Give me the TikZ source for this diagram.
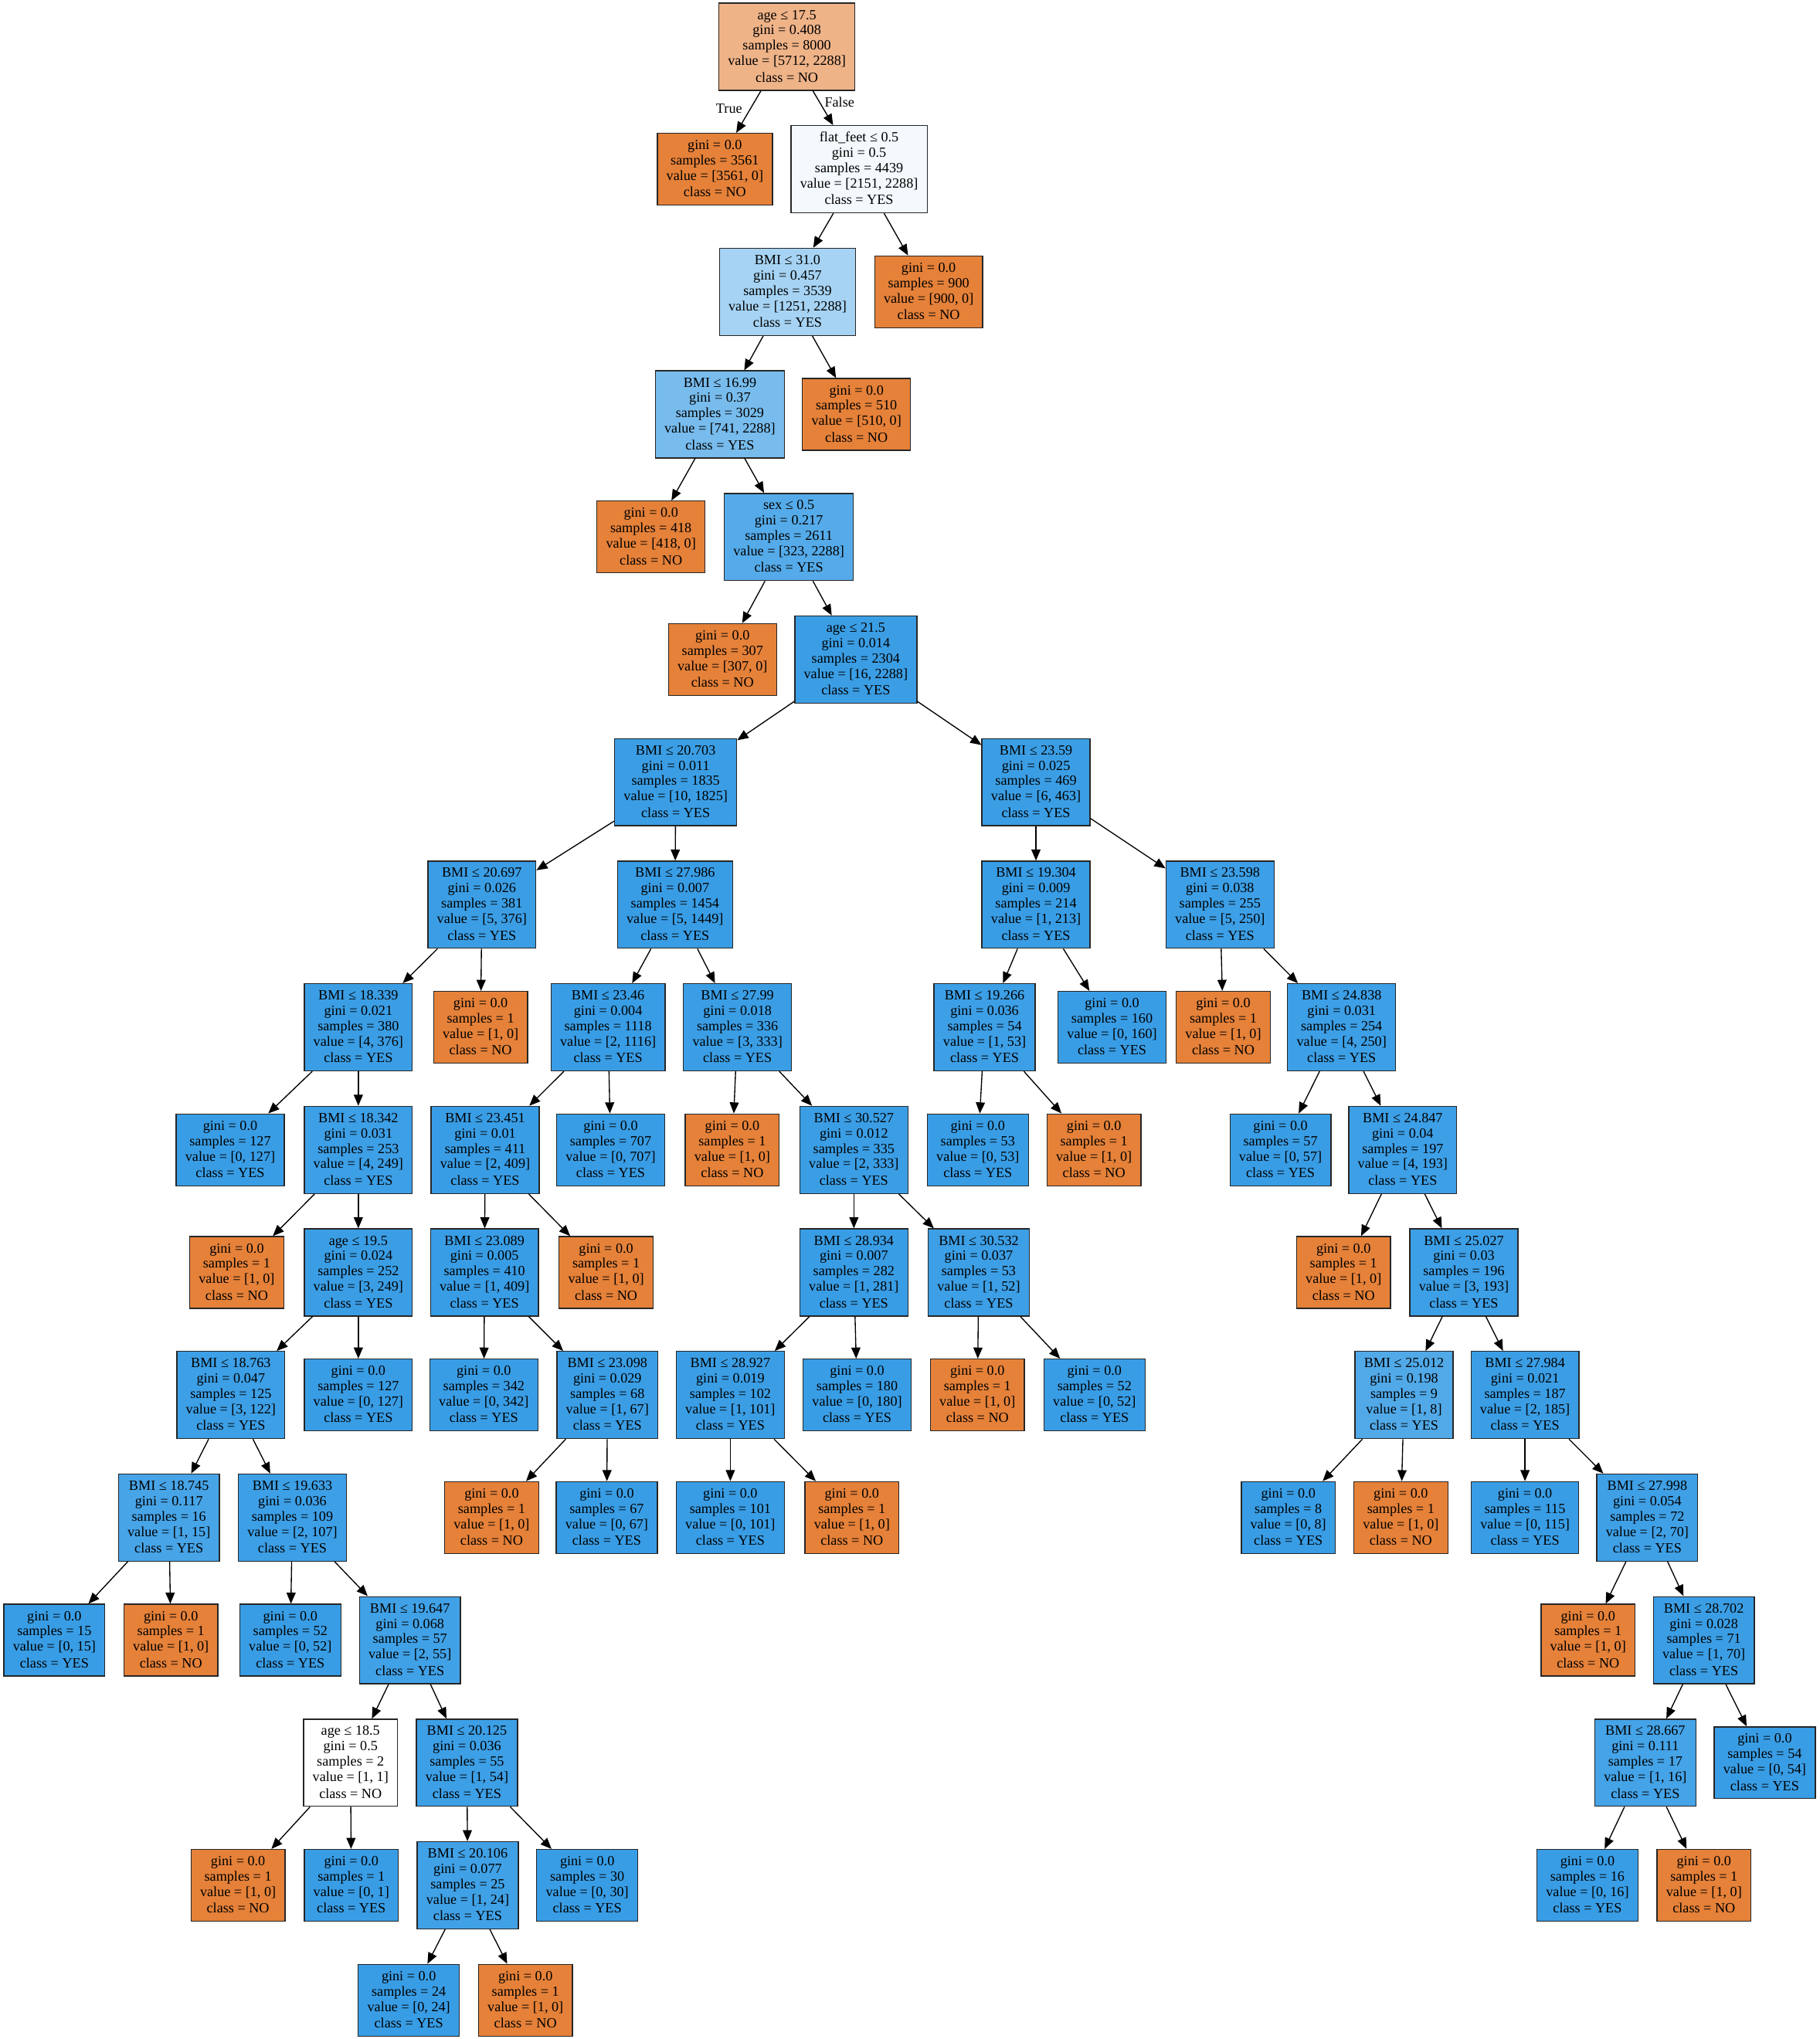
\documentclass[tikz,border=0pt]{standalone}
\usepackage{fontspec}
\setmainfont{Liberation Serif}
\usetikzlibrary{arrows.meta}
\definecolor{cno}{HTML}{E58139}
\definecolor{cyes}{HTML}{399DE5}
% line struts: the first and last ones set the text a little lower in its box
\newcommand\firststrut{\rule[-3.54pt]{0pt}{12.5pt}}
\newcommand\laststrut{\rule[-2.84pt]{0pt}{11.1pt}}
% node texts: leaves and decision nodes
\newcommand\leafno[1]{gini = 0.0\firststrut\\samples = #1\strut\\value = [#1, 0]\strut\\class = NO\laststrut}
\newcommand\leafyes[1]{gini = 0.0\firststrut\\samples = #1\strut\\value = [0, #1]\strut\\class = YES\laststrut}
\newcommand\decnode[5]{#1\firststrut\\gini = #2\strut\\samples = #3\strut\\value = [#4]\strut\\class = #5\laststrut}
\tikzset{
  box/.style={draw=black!85, line width=0.8pt, rectangle, align=center,
    inner xsep=7pt, inner ysep=3.5pt, font=\fontsize{10.8}{11.8}\selectfont},
  nobox/.style={box, fill=cno},
  yesbox/.style={box, fill=cyes},
  mixbox/.style={box, fill=cyes!#1!white},
  link/.style={draw=black, line width=0.8pt, -{Triangle[length=8.5pt,width=7pt]}},
  tf/.style={font=\fontsize{10.8}{11.8}\selectfont, inner sep=0pt}
}
\begin{document}
\begin{tikzpicture}[x=1pt, y=-94.26pt]
\useasboundingbox (0,-0.38086) rectangle (1399,16.2540);
% rank 0
\node[box, fill=cno!60!white] (n0) at (605,0) {\decnode{age ≤ 17.5}{0.408}{8000}{5712, 2288}{NO}};
% rank 1
\node[nobox] (n1) at (549.6,1) {\leafno{3561}};
\node[mixbox=6] (n2) at (660.5,1) {\decnode{flat\_feet ≤ 0.5}{0.5}{4439}{2151, 2288}{YES}};
% rank 2
\node[mixbox=45] (n3) at (605.5,2) {\decnode{BMI ≤ 31.0}{0.457}{3539}{1251, 2288}{YES}};
\node[nobox] (n4) at (714,2) {\leafno{900}};
% rank 3
\node[mixbox=68] (n5) at (553.5,3) {\decnode{BMI ≤ 16.99}{0.37}{3029}{741, 2288}{YES}};
\node[nobox] (n6) at (658.5,3) {\leafno{510}};
% rank 4
\node[nobox] (n7) at (500.5,4) {\leafno{418}};
\node[mixbox=86] (n8) at (606.5,4) {\decnode{sex ≤ 0.5}{0.217}{2611}{323, 2288}{YES}};
% rank 5
\node[nobox] (n9) at (555.5,5) {\leafno{307}};
\node[mixbox=99] (n10) at (658,5) {\decnode{age ≤ 21.5}{0.014}{2304}{16, 2288}{YES}};
% rank 6
\node[mixbox=99] (n11) at (519.5,6) {\decnode{BMI ≤ 20.703}{0.011}{1835}{10, 1825}{YES}};
\node[mixbox=99] (n12) at (796.5,6) {\decnode{BMI ≤ 23.59}{0.025}{469}{6, 463}{YES}};
% rank 7
\node[mixbox=99] (n13) at (370.5,7) {\decnode{BMI ≤ 20.697}{0.026}{381}{5, 376}{YES}};
\node[yesbox] (n14) at (519,7) {\decnode{BMI ≤ 27.986}{0.007}{1454}{5, 1449}{YES}};
\node[yesbox] (n15) at (796.5,7) {\decnode{BMI ≤ 19.304}{0.009}{214}{1, 213}{YES}};
\node[mixbox=98] (n16) at (938,7) {\decnode{BMI ≤ 23.598}{0.038}{255}{5, 250}{YES}};
% rank 8
\node[mixbox=99] (n17) at (275.5,8) {\decnode{BMI ≤ 18.339}{0.021}{380}{4, 376}{YES}};
\node[nobox] (n18) at (369.5,8) {\leafno{1}};
\node[yesbox] (n19) at (467.5,8) {\decnode{BMI ≤ 23.46}{0.004}{1118}{2, 1116}{YES}};
\node[mixbox=99] (n20) at (567,8) {\decnode{BMI ≤ 27.99}{0.018}{336}{3, 333}{YES}};
\node[mixbox=98] (n21) at (757,8) {\decnode{BMI ≤ 19.266}{0.036}{54}{1, 53}{YES}};
\node[yesbox] (n22) at (855,8) {\leafyes{160}};
\node[nobox] (n23) at (940.5,8) {\leafno{1}};
\node[mixbox=98] (n24) at (1031.5,8) {\decnode{BMI ≤ 24.838}{0.031}{254}{4, 250}{YES}};
% rank 9
\node[yesbox] (n25) at (177,9) {\leafyes{127}};
\node[mixbox=98] (n26) at (275.5,9) {\decnode{BMI ≤ 18.342}{0.031}{253}{4, 249}{YES}};
\node[yesbox] (n27) at (373,9) {\decnode{BMI ≤ 23.451}{0.01}{411}{2, 409}{YES}};
\node[yesbox] (n28) at (469.5,9) {\leafyes{707}};
\node[nobox] (n29) at (563,9) {\leafno{1}};
\node[mixbox=99] (n30) at (656.5,9) {\decnode{BMI ≤ 30.527}{0.012}{335}{2, 333}{YES}};
\node[yesbox] (n31) at (751.8,9) {\leafyes{53}};
\node[nobox] (n32) at (841.1,9) {\leafno{1}};
\node[yesbox] (n33) at (984.5,9) {\leafyes{57}};
\node[mixbox=98] (n34) at (1078.5,9) {\decnode{BMI ≤ 24.847}{0.04}{197}{4, 193}{YES}};
% rank 10
\node[nobox] (n35) at (182,10) {\leafno{1}};
\node[mixbox=99] (n36) at (275.5,10) {\decnode{age ≤ 19.5}{0.024}{252}{3, 249}{YES}};
\node[yesbox] (n37) at (372.5,10) {\decnode{BMI ≤ 23.089}{0.005}{410}{1, 409}{YES}};
\node[nobox] (n38) at (466,10) {\leafno{1}};
\node[yesbox] (n39) at (656.5,10) {\decnode{BMI ≤ 28.934}{0.007}{282}{1, 281}{YES}};
\node[mixbox=98] (n40) at (752.5,10) {\decnode{BMI ≤ 30.532}{0.037}{53}{1, 52}{YES}};
\node[nobox] (n41) at (1033,10) {\leafno{1}};
\node[mixbox=98] (n42) at (1125.5,10) {\decnode{BMI ≤ 25.027}{0.03}{196}{3, 193}{YES}};
% rank 11
\node[mixbox=98] (n43) at (177.5,11) {\decnode{BMI ≤ 18.763}{0.047}{125}{3, 122}{YES}};
\node[yesbox] (n44) at (275.5,11) {\leafyes{127}};
\node[yesbox] (n45) at (372,11) {\leafyes{342}};
\node[mixbox=99] (n46) at (467,11) {\decnode{BMI ≤ 23.098}{0.029}{68}{1, 67}{YES}};
\node[mixbox=99] (n47) at (561.5,11) {\decnode{BMI ≤ 28.927}{0.019}{102}{1, 101}{YES}};
\node[yesbox] (n48) at (659,11) {\leafyes{180}};
\node[nobox] (n49) at (751.5,11) {\leafno{1}};
\node[yesbox] (n50) at (841.5,11) {\leafyes{52}};
\node[mixbox=88] (n51) at (1079.5,11) {\decnode{BMI ≤ 25.012}{0.198}{9}{1, 8}{YES}};
\node[mixbox=99] (n52) at (1172.5,11) {\decnode{BMI ≤ 27.984}{0.021}{187}{2, 185}{YES}};
% rank 12
\node[mixbox=93] (n53) at (129.9,12) {\decnode{BMI ≤ 18.745}{0.117}{16}{1, 15}{YES}};
\node[mixbox=98] (n54) at (224.8,12) {\decnode{BMI ≤ 19.633}{0.036}{109}{2, 107}{YES}};
\node[nobox] (n55) at (378,12) {\leafno{1}};
\node[yesbox] (n56) at (466.5,12) {\leafyes{67}};
\node[yesbox] (n57) at (561.5,12) {\leafyes{101}};
\node[nobox] (n58) at (655,12) {\leafno{1}};
\node[yesbox] (n59) at (990.5,12) {\leafyes{8}};
\node[nobox] (n60) at (1077,12) {\leafno{1}};
\node[yesbox] (n61) at (1172.5,12) {\leafyes{115}};
\node[mixbox=97] (n62) at (1266.5,12) {\decnode{BMI ≤ 27.998}{0.054}{72}{2, 70}{YES}};
% rank 13
\node[yesbox] (n63) at (41.8,13) {\leafyes{15}};
\node[nobox] (n64) at (131.4,13) {\leafno{1}};
\node[yesbox] (n65) at (223.2,13) {\leafyes{52}};
\node[mixbox=96] (n66) at (315.2,13) {\decnode{BMI ≤ 19.647}{0.068}{57}{2, 55}{YES}};
\node[nobox] (n67) at (1221,13) {\leafno{1}};
\node[mixbox=99] (n68) at (1310,13) {\decnode{BMI ≤ 28.702}{0.028}{71}{1, 70}{YES}};
% rank 14
\node[box, fill=white] (n69) at (269.5,14) {\decnode{age ≤ 18.5}{0.5}{2}{1, 1}{NO}};
\node[mixbox=98] (n70) at (359,14) {\decnode{BMI ≤ 20.125}{0.036}{55}{1, 54}{YES}};
\node[mixbox=94] (n71) at (1265,14) {\decnode{BMI ≤ 28.667}{0.111}{17}{1, 16}{YES}};
\node[yesbox] (n72) at (1356.8,14) {\leafyes{54}};
% rank 15
\node[nobox] (n73) at (183,15) {\leafno{1}};
\node[yesbox] (n74) at (270.1,15) {\leafyes{1}};
\node[mixbox=96] (n75) at (359.6,15) {\decnode{BMI ≤ 20.106}{0.077}{25}{1, 24}{YES}};
\node[yesbox] (n76) at (451.5,15) {\leafyes{30}};
\node[yesbox] (n77) at (1220.5,15) {\leafyes{16}};
\node[nobox] (n78) at (1310.1,15) {\leafno{1}};
% rank 16 (leaves only)
\node[yesbox] (n79) at (314.3,15.9375) {\leafyes{24}};
\node[nobox] (n80) at (404,15.9375) {\leafno{1}};

% connectors
\draw[link] (n0) -- node[tf, pos=0.5, xshift=-15pt, yshift=2.4pt] {True} (n1);
\draw[link] (n0) -- node[tf, pos=0.5, xshift=12.7pt, yshift=4.6pt] {False} (n2);
\foreach \p/\c in {n2/n3, n2/n4, n3/n5, n3/n6, n5/n7, n5/n8, n8/n9, n8/n10,
  n10/n11, n10/n12, n11/n13, n11/n14, n12/n15, n12/n16,
  n13/n17, n13/n18, n14/n19, n14/n20, n15/n21, n15/n22, n16/n23, n16/n24,
  n17/n25, n17/n26, n19/n27, n19/n28, n20/n29, n20/n30, n21/n31, n21/n32, n24/n33, n24/n34,
  n26/n35, n26/n36, n27/n37, n27/n38, n30/n39, n30/n40, n34/n41, n34/n42,
  n36/n43, n36/n44, n37/n45, n37/n46, n39/n47, n39/n48, n40/n49, n40/n50, n42/n51, n42/n52,
  n43/n53, n43/n54, n46/n55, n46/n56, n47/n57, n47/n58, n51/n59, n51/n60, n52/n61, n52/n62,
  n53/n63, n53/n64, n54/n65, n54/n66, n62/n67, n62/n68,
  n66/n69, n66/n70, n68/n71, n68/n72,
  n69/n73, n69/n74, n70/n75, n70/n76, n71/n77, n71/n78,
  n75/n79, n75/n80}
  \draw[link] (\p) -- (\c);
\end{tikzpicture}
\end{document}
